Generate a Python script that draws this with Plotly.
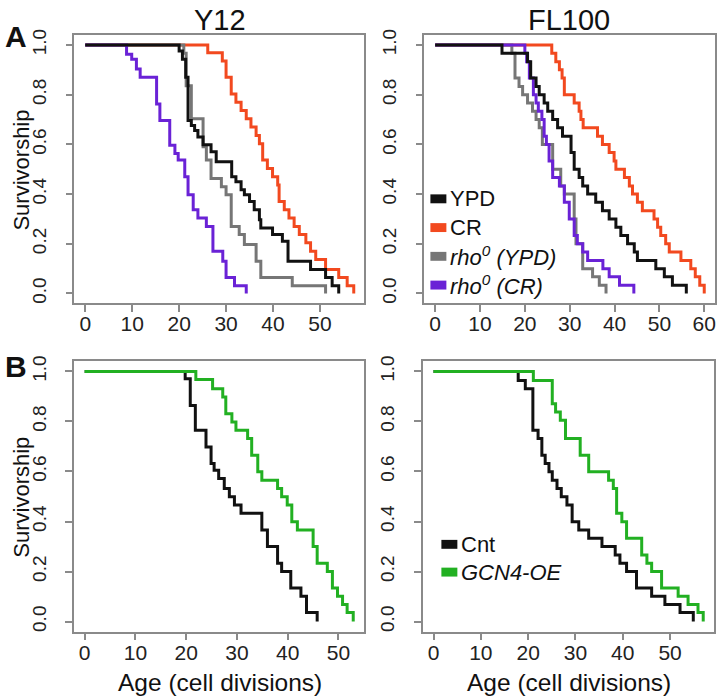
import plotly.graph_objects as go

W, H = 720, 699

# ---------------- data (age in cell divisions, fraction surviving) ----------------
# Panel A, Y12
y12_ypd_age = [0, 20, 20.7, 21.4, 21.9, 22.6, 23.3, 24, 25.1, 26.8, 27.9, 31.2, 32.1, 33.2, 33.9, 35, 36, 37.1, 37.4, 39.9, 42, 43.2, 48, 51.2, 52.6, 54]
y12_ypd_surv = [1, 0.976, 0.943, 0.870, 0.696, 0.676, 0.656, 0.630, 0.599, 0.570, 0.530, 0.470, 0.450, 0.417, 0.397, 0.370, 0.337, 0.297, 0.264, 0.237, 0.210, 0.130, 0.097, 0.064, 0.031, 0]
y12_cr_age = [0, 26.1, 29.2, 30.0, 31.1, 32.1, 33.2, 34.3, 35.3, 36.4, 37.1, 37.8, 38.8, 39.9, 41.0, 41.3, 42.4, 43.4, 44.5, 45.6, 47.0, 48.0, 49.1, 51.2, 54.0, 55.8, 57.2]
y12_cr_surv = [1, 0.969, 0.936, 0.870, 0.803, 0.770, 0.736, 0.703, 0.670, 0.636, 0.603, 0.537, 0.503, 0.470, 0.437, 0.370, 0.337, 0.304, 0.270, 0.237, 0.204, 0.170, 0.137, 0.097, 0.064, 0.031, 0]
y12_rho_ypd_age = [0, 21.0, 21.5, 22.6, 25.1, 25.8, 26.8, 29.0, 30.0, 31.1, 32.8, 33.9, 36.4, 37.4, 44.1, 51.2]
y12_rho_ypd_surv = [1, 0.967, 0.836, 0.703, 0.590, 0.537, 0.463, 0.430, 0.397, 0.270, 0.237, 0.197, 0.130, 0.064, 0.031, 0]
y12_rho_cr_age = [0, 8.8, 9.9, 10.9, 11.7, 15.2, 15.9, 18.0, 19.1, 19.8, 21.2, 21.9, 23.0, 24.0, 25.8, 27.2, 29.3, 30.0, 31.8, 34.3]
y12_rho_cr_surv = [1, 0.963, 0.943, 0.903, 0.870, 0.763, 0.696, 0.597, 0.563, 0.537, 0.470, 0.397, 0.337, 0.304, 0.270, 0.170, 0.130, 0.064, 0.031, 0]

# Panel A, FL100
fl_ypd_age = [0, 14.9, 20.6, 21.3, 22.5, 23.2, 24.3, 25.1, 26.2, 27.3, 28.4, 30.3, 31.0, 32.1, 32.9, 34.0, 35.8, 37.3, 38.8, 40.3, 41.4, 42.9, 44.4, 45.1, 49.2, 51.1, 52.9, 56.0]
fl_ypd_surv = [1, 0.967, 0.933, 0.867, 0.833, 0.8, 0.767, 0.733, 0.7, 0.667, 0.633, 0.567, 0.5, 0.467, 0.433, 0.4, 0.367, 0.333, 0.3, 0.267, 0.233, 0.2, 0.167, 0.133, 0.1, 0.067, 0.033, 0]
fl_cr_age = [0, 26.0, 26.9, 27.7, 28.3, 28.8, 31.0, 32.1, 32.5, 33.0, 36.2, 37.3, 38.8, 39.9, 40.3, 42.2, 43.3, 44.0, 45.1, 46.2, 48.8, 49.6, 50.3, 51.4, 52.2, 54.8, 57.0, 58.0, 59.0, 60.0]
fl_cr_surv = [1, 0.967, 0.933, 0.9, 0.867, 0.8, 0.767, 0.733, 0.7, 0.667, 0.633, 0.6, 0.567, 0.533, 0.5, 0.467, 0.433, 0.4, 0.367, 0.333, 0.3, 0.267, 0.233, 0.2, 0.167, 0.133, 0.1, 0.067, 0.033, 0]
fl_rho_ypd_age = [0, 17.1, 17.8, 18.7, 19.5, 20.6, 21.7, 22.5, 23.2, 23.9, 26.2, 28.0, 28.8, 31.0, 31.4, 32.9, 35.1, 36.6, 38.1]
fl_rho_ypd_surv = [1, 0.967, 0.867, 0.833, 0.8, 0.767, 0.733, 0.7, 0.667, 0.6, 0.5, 0.433, 0.4, 0.3, 0.2, 0.1, 0.067, 0.033, 0]
fl_rho_cr_age = [0, 20.0, 20.4, 21.0, 21.9, 22.5, 23.0, 23.8, 24.3, 24.8, 25.4, 26.2, 27.7, 28.8, 29.9, 31.0, 31.7, 32.9, 34.0, 37.4, 38.8, 41.1, 44.3]
fl_rho_cr_surv = [1, 0.967, 0.933, 0.867, 0.8, 0.767, 0.733, 0.7, 0.633, 0.6, 0.533, 0.467, 0.433, 0.367, 0.3, 0.233, 0.2, 0.167, 0.133, 0.1, 0.067, 0.033, 0]

# Panel B, Y12
by12_cnt_age = [0, 19.8, 20.8, 21.8, 23.9, 24.9, 25.5, 26.4, 27.5, 28.5, 29.5, 30.8, 34.9, 36.0, 38.0, 38.8, 40.6, 42.6, 43.7, 45.8]
by12_cnt_surv = [1, 0.971, 0.864, 0.765, 0.698, 0.632, 0.605, 0.572, 0.532, 0.499, 0.466, 0.433, 0.366, 0.300, 0.233, 0.2, 0.134, 0.101, 0.036, 0]
by12_gcn_age = [0, 21.9, 25.2, 27.2, 27.8, 29.0, 29.8, 32.1, 32.9, 34.1, 34.9, 38.0, 38.8, 39.9, 40.8, 41.9, 45.0, 45.8, 47.8, 48.8, 49.8, 50.8, 51.7, 52.9]
by12_gcn_surv = [1, 0.968, 0.931, 0.898, 0.831, 0.798, 0.765, 0.732, 0.665, 0.599, 0.565, 0.532, 0.499, 0.466, 0.399, 0.366, 0.300, 0.233, 0.2, 0.134, 0.101, 0.068, 0.036, 0]

# Panel B, FL100
bfl_cnt_age = [0, 17.9, 19.4, 21.0, 22.1, 22.9, 23.6, 24.4, 25.1, 26.1, 27.0, 28.2, 29.3, 30.7, 32.8, 35.6, 38.4, 39.4, 40.8, 42.9, 46.1, 48.9, 52.1, 54.9]
bfl_cnt_surv = [1, 0.964, 0.931, 0.765, 0.732, 0.665, 0.632, 0.599, 0.565, 0.532, 0.499, 0.466, 0.399, 0.366, 0.333, 0.300, 0.266, 0.233, 0.2, 0.134, 0.101, 0.068, 0.036, 0]
bfl_gcn_age = [0, 21.1, 25.1, 25.8, 26.8, 27.9, 31.0, 32.8, 37.0, 38.0, 38.7, 39.8, 40.8, 44.0, 45.1, 46.1, 48.2, 51.7, 53.8, 55.9, 57.0]
bfl_gcn_surv = [1, 0.964, 0.871, 0.838, 0.805, 0.732, 0.665, 0.599, 0.565, 0.532, 0.433, 0.399, 0.333, 0.266, 0.233, 0.2, 0.134, 0.101, 0.068, 0.036, 0]

panel_titles = ["Y12", "FL100"]
legend_a = ["YPD", "CR", "<i>rho<sup>0</sup> (YPD)</i>", "<i>rho<sup>0</sup> (CR)</i>"]
legend_b = ["Cnt", "<i>GCN4-OE</i>"]
x_ticks_a1 = [0, 10, 20, 30, 40, 50]
x_ticks_a2 = [0, 10, 20, 30, 40, 50, 60]
x_ticks_b = [0, 10, 20, 30, 40, 50]
y_ticks = [0, 0.2, 0.4, 0.6, 0.8, 1.0]
y_tick_text = ["0.0", "0.2", "0.4", "0.6", "0.8", "1.0"]

# ---------------- styles ----------------
BLACK = "#111111"
RED = "#F2491F"
GRAY = "#767676"
PURPLE = "#6A22D6"
GREEN = "#22B022"
FRAME = "#8a8a8a"
FONT = "Liberation Sans, Arial, sans-serif"
LW = 3

fig = go.Figure()

def add(x, y, color, xa, ya):
    fig.add_trace(go.Scatter(x=x, y=y, mode="lines", line=dict(color=color, width=LW, shape="hv"),
                             xaxis=xa, yaxis=ya, showlegend=False, hoverinfo="skip"))

# Panel A Y12 (x, y)
add(y12_cr_age, y12_cr_surv, RED, "x", "y")
add(y12_rho_ypd_age, y12_rho_ypd_surv, GRAY, "x", "y")
add(y12_rho_cr_age, y12_rho_cr_surv, PURPLE, "x", "y")
add(y12_ypd_age, y12_ypd_surv, BLACK, "x", "y")
# Panel A FL100 (x2, y2)
add(fl_cr_age, fl_cr_surv, RED, "x2", "y2")
add(fl_rho_ypd_age, fl_rho_ypd_surv, GRAY, "x2", "y2")
add(fl_rho_cr_age, fl_rho_cr_surv, PURPLE, "x2", "y2")
add(fl_ypd_age, fl_ypd_surv, BLACK, "x2", "y2")
# Panel B Y12 (x3, y3)
add(by12_cnt_age, by12_cnt_surv, BLACK, "x3", "y3")
add(by12_gcn_age, by12_gcn_surv, GREEN, "x3", "y3")
# Panel B FL100 (x4, y4)
add(bfl_cnt_age, bfl_cnt_surv, BLACK, "x4", "y4")
add(bfl_gcn_age, bfl_gcn_surv, GREEN, "x4", "y4")


def px(v):
    return v / W


def py(v):
    return 1 - v / H


def xaxis(dom, rng, ticks, anchor):
    return dict(domain=[px(dom[0]), px(dom[1])], range=rng, anchor=anchor,
                showline=True, mirror=True, linecolor=FRAME, linewidth=1.5,
                ticks="outside", ticklen=7, tickwidth=1.5, tickcolor=FRAME,
                tickvals=ticks, ticklabelstandoff=-6,
                tickfont=dict(family=FONT, size=21, color="#222"),
                showgrid=False, zeroline=False, fixedrange=True)


def yaxis(dom, anchor):
    return dict(domain=[py(dom[1]), py(dom[0])], range=[-0.04, 1.04], anchor=anchor,
                showline=True, mirror=True, linecolor=FRAME, linewidth=1.5,
                ticks="outside", ticklen=7, tickwidth=1.5, tickcolor=FRAME,
                tickvals=y_ticks, ticktext=y_tick_text, tickangle=-90,
                ticklabelstandoff=12,
                tickfont=dict(family=FONT, size=19, color="#222"),
                showgrid=False, zeroline=False, fixedrange=True)

TOP = (29.3, 300)
BOT = (358.5, 631)

fig.update_layout(
    width=W, height=H,
    margin=dict(l=0, r=0, t=0, b=0),
    paper_bgcolor="white", plot_bgcolor="white",
    xaxis=xaxis((74.6, 365), [-2.29, 59.49], x_ticks_a1, "y"),
    yaxis=yaxis(TOP, "x"),
    xaxis2=xaxis((425, 716), [-2.4, 62.4], x_ticks_a2, "y2"),
    yaxis2=yaxis(TOP, "x2"),
    xaxis3=xaxis((74, 365), [-2.12, 55.12], x_ticks_b, "y3"),
    yaxis3=yaxis(BOT, "x3"),
    xaxis4=xaxis((423.3, 715), [-2.28, 59.28], x_ticks_b, "y4"),
    yaxis4=yaxis(BOT, "x4"),
)

ann = []
shapes = []

def text(x, y, s, size, angle=0, bold=False, xanchor="center", color="#111"):
    ann.append(dict(x=px(x), y=py(y), xref="paper", yref="paper", text=("<b>%s</b>" % s) if bold else s,
                    showarrow=False, xanchor=xanchor, yanchor="middle", textangle=angle,
                    font=dict(family=FONT, size=size, color=color)))

# panel titles
text(220, 14, panel_titles[0], 29)
text(570, 14, panel_titles[1], 29)
# panel letters
text(16, 31, "A", 30, bold=True)
text(16, 364, "B", 30, bold=True)
# axis titles
text(22, 165, "Survivorship", 22, angle=-90)
text(22, 495, "Survivorship", 22, angle=-90)
text(220, 682, "Age (cell divisions)", 24.5)
text(570, 682, "Age (cell divisions)", 24.5)

# legends
def legend_item(x, y, color, label):
    shapes.append(dict(type="rect", xref="paper", yref="paper", x0=px(x), x1=px(x + 16),
                       y0=py(y + 4.5), y1=py(y - 4.5), fillcolor=color, line=dict(width=0)))
    text(x + 18, y, label, 22, xanchor="left")

for i, (c, lab) in enumerate(zip([BLACK, RED, GRAY, PURPLE], legend_a)):
    legend_item(431, 194.5 + i * 29, c, lab)
for i, (c, lab) in enumerate(zip([BLACK, GREEN], legend_b)):
    legend_item(442, 543 + i * 28, c, lab)

fig.update_layout(annotations=ann, shapes=shapes)
fig.write_html("out.html", config={"displayModeBar": False},
               post_script="document.body.style.margin='0';document.body.style.overflow='hidden';")
